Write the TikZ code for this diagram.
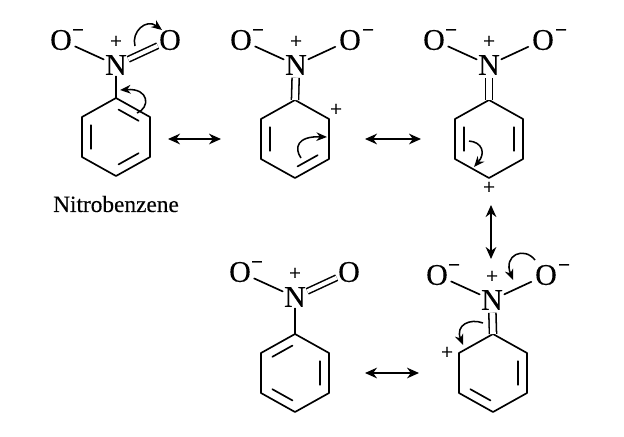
\documentclass[tikz,border=0pt]{standalone}
\usepackage{fontspec}
\setmainfont[FakeBold=0.25]{Liberation Serif}
\usetikzlibrary{arrows.meta,calc}
\tikzset{
  atom/.style={inner sep=0pt,font=\fontsize{22.5}{22.5}\selectfont},
  chg/.style={inner sep=0pt,font=\fontsize{16}{16}\selectfont},
  bond/.style={line width=1.25pt,line cap=round,line join=round},
  sbond/.style={bond,shorten <=2.5pt,shorten >=1pt},
  dbond/.style={line width=1.15pt,double distance=3pt,shorten <=1pt,shorten >=1pt},
  nbond/.style={line width=1.15pt,double distance=4.2pt,shorten <=2pt},
  res/.style={line width=1.2pt,{Stealth[length=9pt,width=8pt]}-{Stealth[length=9pt,width=8pt]}},
  curly/.style={line width=1.15pt,-{Stealth[length=8pt,width=6.5pt]}},
  lab/.style={inner sep=0pt,font=\fontsize{17.5}{17.5}\selectfont}
}
% prefix, N x, N y, ring top x, ring top y
\newcommand{\nitrogroup}[5]{%
  \node[atom] (#1N) at (#2,#3) {N};
  \node[atom] (#1OL) at (#2-55,#3-25) {O};
  \node[atom] (#1OR) at (#2+54,#3-25) {O};
  \node[chg] (#1P) at (#2,#3-23) {+};
  \node[chg] (#1ML) at (#2-38,#3-32) {−};
  \coordinate (#1a) at (#4,#5);
  \coordinate (#1b) at (#4+34,#5+19);
  \coordinate (#1c) at (#4+34,#5+59);
  \coordinate (#1d) at (#4,#5+78);
  \coordinate (#1e) at (#4-34,#5+59);
  \coordinate (#1f) at (#4-34,#5+19);
  \coordinate (#1o) at (#4,#5+39);
  \draw[bond] (#1a)--(#1b)--(#1c)--(#1d)--(#1e)--(#1f)--cycle;
  \draw[sbond] (#1OL)--(#1N);
}
% O minus on the right-hand oxygen, single bond
\newcommand{\rightminus}[1]{%
  \node[chg] (#1MR) at ($(#1OR)+(18,-7)$) {−};
  \draw[sbond,shorten <=3pt] (#1OR)--(#1N);
}
\newcommand{\innerbond}[3]{%
  \draw[bond] ($(#1o)!.74!($(#1#2)!.1!(#1#3)$)$)--($(#1o)!.74!($(#1#3)!.1!(#1#2)$)$);
}
\begin{document}
\begin{tikzpicture}[x=0.75pt,y=-0.75pt]
\useasboundingbox (0,0) rectangle (624,436);
\fill[white] (0,0) rectangle (624,436);

% molecule 1
\nitrogroup{p}{116}{65}{116}{98}
\draw[dbond] (pN)--(pOR);
\draw[bond,shorten <=1pt] (pN)--(pa);
\innerbond{p}{f}{e}\innerbond{p}{a}{b}\innerbond{p}{d}{c}
\coordinate (pc1) at (135,46);
\coordinate (pc2) at (162,30);
\draw[curly] (pc1) .. controls (131,32) and (146,18) .. (pc2);
\coordinate (pc3) at (137,113);
\coordinate (pc4) at (120,90);
\draw[curly] (pc3) .. controls (150,108) and (150,88) .. (pc4);
\node[lab] (name) at (116,204) {Nitrobenzene};

% molecule 2
\nitrogroup{q}{296}{65}{295}{100}
\rightminus{q}
\draw[nbond] (qN)--(qa);
\innerbond{q}{f}{e}\innerbond{q}{d}{c}
\node[chg] (qplus) at (336,110) {+};
\coordinate (qc1) at (301,158);
\coordinate (qc2) at (327,137);
\draw[curly] (qc1) .. controls (294,148) and (297,136) .. (qc2);

% molecule 3
\nitrogroup{r}{489}{65}{489}{100}
\rightminus{r}
\draw[nbond] (rN)--(ra);
\innerbond{r}{f}{e}\innerbond{r}{b}{c}
\node[chg] (rplus) at (489,188) {+};
\coordinate (rc1) at (469,141);
\coordinate (rc2) at (474,167);
\draw[curly] (rc1) .. controls (482,142) and (486,153) .. (rc2);

% molecule 4
\nitrogroup{s}{492}{300}{493}{334}
\rightminus{s}
\draw[nbond] (sN)--(sa);
\innerbond{s}{e}{d}\innerbond{s}{b}{c}
\node[chg] (splus) at (447,353) {+};
\coordinate (sc1) at (535,260);
\coordinate (sc2) at (513,280);
\draw[curly] (sc1) .. controls (524,246) and (503,255) .. (sc2);
\coordinate (sc3) at (483,323);
\coordinate (sc4) at (463,345);
\draw[curly] (sc3) .. controls (470,318) and (455,325) .. (sc4);

% molecule 5
\nitrogroup{t}{295}{297}{295}{334}
\draw[dbond] (tN)--(tOR);
\draw[bond,shorten <=1pt] (tN)--(ta);
\innerbond{t}{a}{f}\innerbond{t}{b}{c}\innerbond{t}{e}{d}

% resonance arrows
\coordinate (h1a) at (168,139);
\coordinate (h1b) at (221,139);
\coordinate (h2a) at (365,139);
\coordinate (h2b) at (421,139);
\coordinate (v1a) at (491,205);
\coordinate (v1b) at (491,259);
\coordinate (h3a) at (365,373);
\coordinate (h3b) at (419,373);
\draw[res] (h1a)--(h1b);
\draw[res] (h2a)--(h2b);
\draw[res] (v1a)--(v1b);
\draw[res] (h3a)--(h3b);
\end{tikzpicture}
\end{document}
